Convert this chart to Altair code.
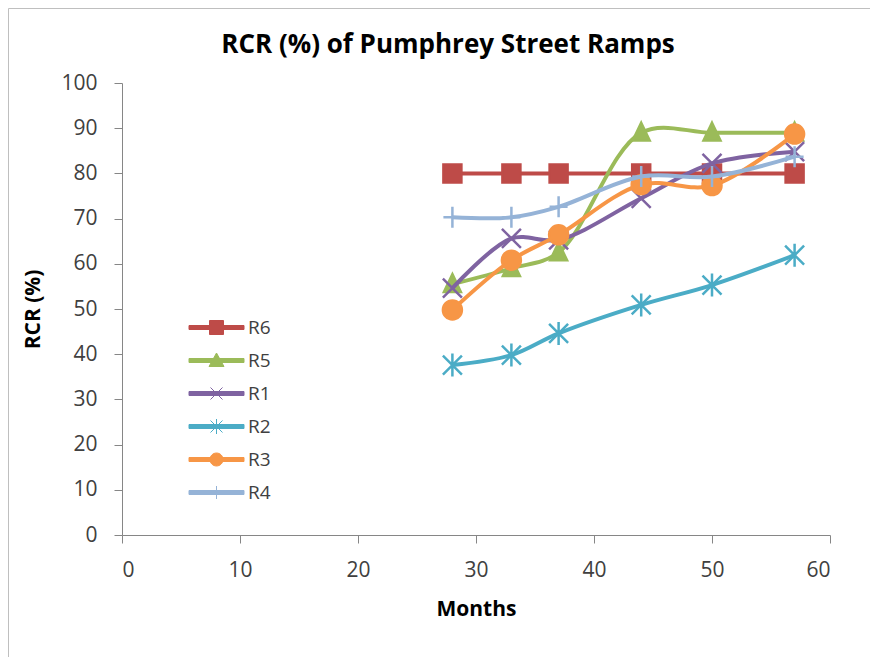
import altair as alt
import pandas as pd

# ---- data ----
months = [28, 33, 37, 44, 50, 57]
series = ["R6", "R5", "R1", "R2", "R3", "R4"]
r6 = [80, 80, 80, 80, 80, 80]
r5 = [55.5, 59, 62.5, 89, 89, 89]
r1 = [54.6, 65.6, 65.3, 74.5, 82.2, 84.8]
r2 = [37.6, 39.8, 44.6, 50.9, 55.3, 61.9]
r3 = [49.8, 60.8, 66.4, 77.5, 77.3, 88.7]
r4 = [70.3, 70.3, 72.6, 79.3, 79.3, 83.7]
values = {"R6": r6, "R5": r5, "R1": r1, "R2": r2, "R3": r3, "R4": r4}

x_ticks = [0, 10, 20, 30, 40, 50, 60]
y_ticks = [0, 10, 20, 30, 40, 50, 60, 70, 80, 90, 100]

# ---- styles ----
colors = ["#BE4B48", "#9BBB59", "#7F63A1", "#4BACC6", "#F79646", "#95B3D7"]
plot_shapes = [
    "M-0.9,-0.9H0.9V0.9H-0.9Z",
    "M0,-1.0L0.85,0.78H-0.85Z",
    "M-0.95,-0.95L0.95,0.95M-0.95,0.95L0.95,-0.95",
    "M-0.95,-0.95L0.95,0.95M-0.95,0.95L0.95,-0.95M0,-1.15V1.15",
    "M0.95,0A0.95,0.95,0,1,1,-0.95,0A0.95,0.95,0,1,1,0.95,0Z",
    "M0,-1.05V1.05M-0.9,0H0.9",
]
LINE = "M-2.75,-0.2H2.75V0.2H-2.75Z"
legend_shapes = [
    LINE + "M-0.7,-0.7H0.7V0.7H-0.7Z",
    LINE + "M0,-0.75L0.75,0.6H-0.75Z",
    LINE + "M-0.6,-0.6L0.6,0.6M-0.6,0.6L0.6,-0.6",
    LINE + "M-0.6,-0.6L0.6,0.6M-0.6,0.6L0.6,-0.6M0,-0.75V0.75",
    LINE + "M0.65,0A0.65,0.65,0,1,1,-0.65,0A0.65,0.65,0,1,1,0.65,0Z",
    LINE + "M0,-0.65V0.65",
]

FONT = "Open Sans"
AXIS_GRAY = "#868686"
TEXT = "#404040"

rows = []
for s in series:
    for m, v in zip(months, values[s]):
        rows.append({"series": s, "month": m, "rcr": v})
df = pd.DataFrame(rows)

x_enc = alt.X(
    "month:Q",
    scale=alt.Scale(domain=[0, 60], nice=False, zero=False),
    axis=alt.Axis(
        values=x_ticks, grid=False, tickSize=8, tickColor=AXIS_GRAY,
        domainColor=AXIS_GRAY, labelFont=FONT, labelFontSize=21,
        labelColor=TEXT, labelBaseline="middle", labelPadding=27,
        title="Months", titleFont=FONT, titleFontSize=21,
        titleFontWeight="bold", titleColor="#000000", titleY=74,
        titleBaseline="middle",
    ),
)
y_enc = alt.Y(
    "rcr:Q",
    scale=alt.Scale(domain=[0, 100], nice=False),
    axis=alt.Axis(
        values=y_ticks, grid=False, tickSize=8, tickColor=AXIS_GRAY,
        domainColor=AXIS_GRAY, labelFont=FONT, labelFontSize=21,
        labelColor=TEXT, labelPadding=17,
        title="RCR (%)", titleFont=FONT, titleFontSize=21,
        titleFontWeight="bold", titleColor="#000000", titleX=-89,
        titleY=226, titleAngle=270, titleBaseline="middle",
        titleAlign="center",
    ),
)


def color_scale():
    return alt.Scale(domain=series, range=colors)


layers = []
for s in series:
    sub = alt.Chart(df).transform_filter(alt.datum.series == s)
    line = sub.mark_line(interpolate="catmull-rom", strokeWidth=4).encode(
        x=x_enc, y=y_enc,
        color=alt.Color("series:N", scale=color_scale(), legend=None),
    )
    pts = sub.mark_point(filled=True, opacity=1, size=400, strokeWidth=2.5).encode(
        x=x_enc, y=y_enc,
        color=alt.Color("series:N", scale=color_scale(), legend=None),
        stroke=alt.Stroke("series:N", scale=color_scale(), legend=None),
        shape=alt.Shape("series:N", scale=alt.Scale(domain=series, range=plot_shapes), legend=None),
    )
    layers += [line, pts]

leg = alt.Legend(
    orient="none", legendX=84, legendY=234, title=None,
    symbolSize=400, symbolStrokeWidth=1, labelFont=FONT, labelFontSize=19,
    labelColor=TEXT, labelOffset=21, rowPadding=12,
)
legend_layer = alt.Chart(df).transform_filter("false").mark_point(
    filled=True, opacity=1, size=400, strokeWidth=1
).encode(
    x=x_enc, y=y_enc,
    color=alt.Color("series:N", scale=color_scale(), legend=leg),
    stroke=alt.Stroke("series:N", scale=color_scale(), legend=leg),
    shape=alt.Shape("series:N", scale=alt.Scale(domain=series, range=legend_shapes), legend=leg),
)

border = alt.Chart(pd.DataFrame({"b": [0]})).mark_rect(
    fillOpacity=0, stroke="#BFBFBF", strokeWidth=1
).encode(
    x=alt.value(-113.5), x2=alt.value(780), y=alt.value(-74.5), y2=alt.value(620)
)

chart = alt.layer(border, *layers, legend_layer).resolve_scale(
    color="independent", stroke="independent", shape="independent"
).properties(
    width=708, height=452,
    padding={"left": 114, "top": 75, "right": 40, "bottom": 122},
    autosize=alt.AutoSizeParams(type="none"),
    background="white",
    title=alt.Title(
        "RCR (%) of Pumphrey Street Ramps", font=FONT, fontSize=26,
        fontWeight="bold", color="#000000", anchor="middle", frame="group",
        dx=-28, dy=64, offset=14,
    ),
).configure_view(stroke=None)

chart.save("out.html", embed_options={"renderer": "svg", "actions": False})
